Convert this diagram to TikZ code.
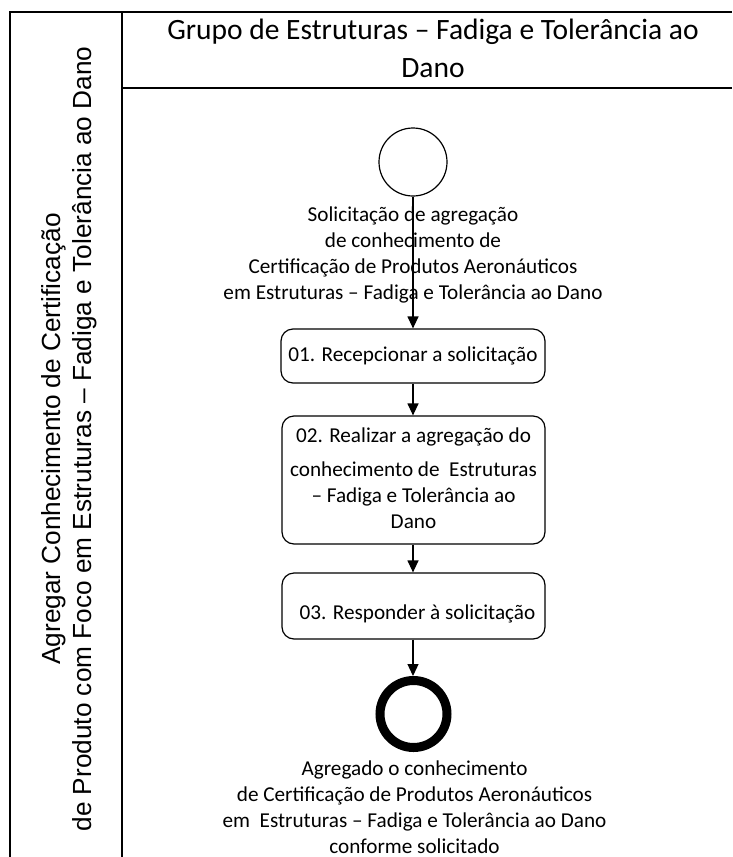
\documentclass[tikz,border=0pt]{standalone}
\usepackage{fontspec}
\setmainfont{Carlito}
\newfontfamily\sidefont{Liberation Sans}
\usetikzlibrary{arrows.meta}
\begin{document}
\begin{tikzpicture}[x=1pt,y=-1pt,
  frame/.style={line width=1.8pt},
  task/.style={draw, line width=1.2pt, rounded corners=12pt, inner sep=0pt},
  flow/.style={line width=1.2pt, -{Triangle[length=12pt,width=11pt]}},
  lbl/.style={font=\fontsize{21.2}{25.7}\selectfont, align=center, inner sep=0pt},
]
\useasboundingbox (0,0) rectangle (732,857);
\draw[frame] (10,857) -- (10,12) -- (732,12);
\draw[frame] (122,12) -- (122,857);
\draw[frame] (122,88) -- (732,88);

\node[font=\fontsize{29.5}{38}\selectfont, align=center, inner sep=0pt, anchor=base] (title) at (433,77) {Grupo de Estruturas – Fadiga e Tolerância ao\\Dano};

\node[font=\sidefont\fontsize{26.2}{31}\selectfont, rotate=90, align=center, inner sep=0pt] (lane) at (69.5,439) {Agregar Conhecimento de Certificação\\de Produto com Foco em Estruturas – Fadiga e Tolerância ao Dano};

\node[draw, circle, line width=1.2pt, minimum size=68pt, inner sep=0pt] (start) at (413,162) {};
\node[lbl, anchor=base] (startlbl) at (413,299) {Solicitação de agregação\\de conhecimento de\\Certificação de Produtos Aeronáuticos\\em Estruturas – Fadiga e Tolerância ao Dano};

\node[task, minimum width=264pt, minimum height=54pt, font=\fontsize{21.2}{25}\selectfont] (t1) at (413,356) {01. Recepcionar a solicitação};

\node[task, minimum width=263pt, minimum height=128pt] (t2) at (413.5,480) {};
\node[lbl, anchor=base] (t2txt) at (413.5,528) {02. Realizar a agregação do\\[8pt]conhecimento de~~Estruturas\\– Fadiga e Tolerância ao\\Dano};

\node[task, minimum width=263pt, minimum height=66pt] (t3) at (413.5,606) {};
\node[font=\fontsize{21.2}{25}\selectfont, inner sep=0pt, anchor=base] (t3txt) at (417.5,619) {03. Responder à solicitação};

\node[draw, circle, line width=9pt, minimum size=67pt, inner sep=0pt] (end) at (413.5,714) {};
\node[lbl, anchor=base] (endlbl) at (414.5,853) {Agregado o conhecimento\\de Certificação de Produtos Aeronáuticos\\em~~Estruturas – Fadiga e Tolerância ao Dano\\conforme solicitado};

\draw[flow] (start) -- (t1);
\draw[flow] (t1.south) -- (t1.south |- t2.north);
\draw[flow] (t2.south -| t1.south) -- (t1.south |- t3.north);
\draw[flow] (t3.south -| t1.south) -- (t1.south |- end.north);
\end{tikzpicture}
\end{document}
